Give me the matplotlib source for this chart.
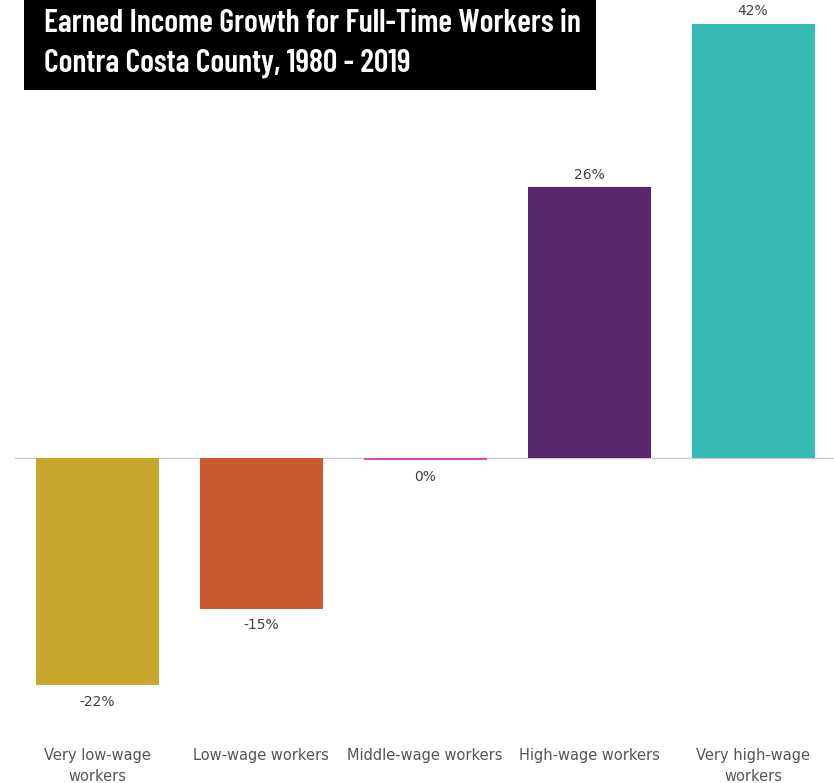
import matplotlib.pyplot as plt
from matplotlib.patches import Rectangle

categories = ["Very low-wage\nworkers", "Low-wage workers", "Middle-wage workers",
              "High-wage workers", "Very high-wage\nworkers"]
growth = [-22.0, -14.6, -0.2, 26.2, 42.0]
colours = ["#C9A62C", "#C75A2E", "#D14FA4", "#58266B", "#36BCB4"]

TITLE_LINES = ["Earned Income Growth for Full-Time Workers in",
               "Contra Costa County, 1980 - 2019"]

fig = plt.figure(figsize=(8.34, 7.83), dpi=100)
ax = fig.add_axes([15 / 834, 43 / 783, 820 / 834, 740 / 783])

x = range(len(categories))
ax.bar(x, growth, width=0.75, color=colours, zorder=2)
ax.axhline(0, color="#cccccc", linewidth=1, zorder=1)

for xi, val in zip(x, growth):
    label = "{0}%".format(int(round(val)))
    if val >= 0:
        ax.annotate(label, (xi, val), xytext=(0, 4), textcoords="offset points",
                    ha="center", va="bottom", fontsize=10, color="#404040")
    else:
        ax.annotate(label, (xi, val), xytext=(0, -7), textcoords="offset points",
                    ha="center", va="top", fontsize=10, color="#404040")

ax.set_xlim(-0.5, 4.5)
ax.set_ylim(-27.3, 44.3)
ax.set_xticks(list(x))
ax.set_xticklabels(categories, fontsize=10.5, color="#555555", linespacing=1.45)
ax.tick_params(axis="x", length=0, pad=6)
ax.set_yticks([])
for spine in ax.spines.values():
    spine.set_visible(False)

# black title box in the top-left corner
fig.patches.append(Rectangle((24 / 834, 1 - 90 / 783), 572 / 834, 90 / 783,
                             transform=fig.transFigure, facecolor="black",
                             edgecolor="none", zorder=5))
title_font = ["Barlow Condensed", "Roboto Condensed", "DejaVu Sans"]
for i, line in enumerate(TITLE_LINES):
    fig.text(44 / 834, 1 - (32 + 40 * i) / 783, line, color="white", fontsize=23,
             fontweight="semibold", family=title_font, va="baseline", ha="left",
             zorder=6)

fig.savefig("out.png", dpi=100)
